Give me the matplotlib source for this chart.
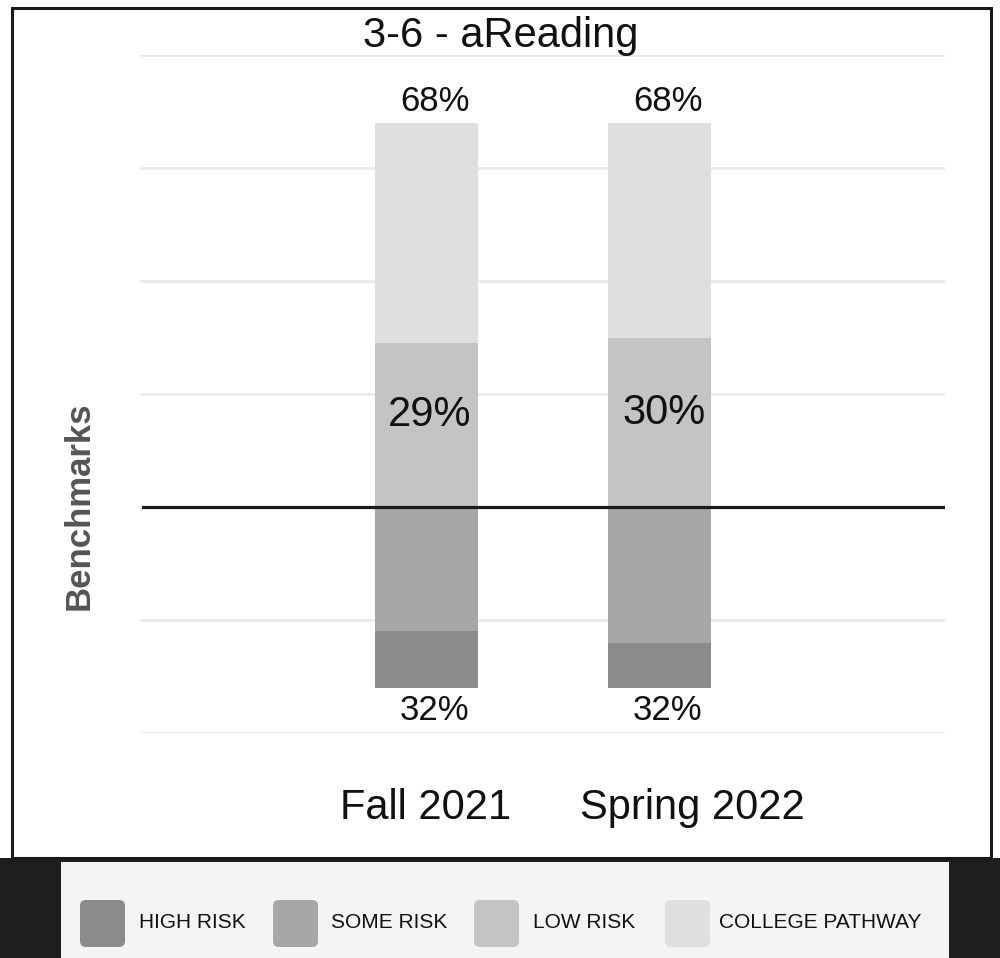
import matplotlib
matplotlib.use("Agg")
import matplotlib.pyplot as plt
from matplotlib.patches import Rectangle, FancyBboxPatch
import numpy as np

plt.rcParams['font.family'] = ['Liberation Sans', 'DejaVu Sans']

# ---- data ----
categories = ["Fall 2021", "Spring 2022"]
high_risk = [10, 8]
some_risk = [22, 24]
low_risk = [29, 30]
college_pathway = [39, 38]
series_names = ["HIGH RISK", "SOME RISK", "LOW RISK", "COLLEGE PATHWAY"]
colors = ["#8b8b8b", "#a7a7a7", "#c4c4c4", "#dfdfdf"]
title = "3-6 - aReading"
y_label = "Benchmarks"
grid_ticks = [-40, -20, 20, 40, 60, 80]

W, H = 1000, 958
fig = plt.figure(figsize=(W / 100, H / 100), dpi=100)
fig.patch.set_facecolor("white")

def fx(px):
    return px / W

def fy(py):
    return 1 - py / H

# frame and bottom band
fig.patches.append(Rectangle((fx(0), fy(958)), 1, (958 - 858) / H, transform=fig.transFigure,
                             facecolor="#1e1e1e", edgecolor="none", zorder=0))
fig.patches.append(Rectangle((fx(61), fy(958)), (949 - 61) / W, (958 - 862) / H,
                             transform=fig.transFigure, facecolor="#f4f4f4", edgecolor="none", zorder=1))
fig.patches.append(Rectangle((fx(12), fy(858)), (991 - 12) / W, (858 - 8) / H,
                             transform=fig.transFigure, facecolor="none", edgecolor="#1a1a1a",
                             linewidth=2.2, zorder=5))

# axes
left_px, right_px, top_px, bot_px = 140, 945, 55, 733
ax = fig.add_axes([fx(left_px), fy(bot_px), (right_px - left_px) / W, (bot_px - top_px) / H])
ax.set_facecolor("none")
x = np.arange(len(categories))
unit = 233.0
ax.set_xlim(-(426.5 - left_px) / unit, (right_px - 426.5) / unit)
ax.set_ylim(-40, 80)
for s in ax.spines.values():
    s.set_visible(False)
ax.set_xticks([])
ax.set_yticks(grid_ticks)
ax.tick_params(axis="y", length=0, labelleft=False)
ax.grid(axis="y", color="#e8e8e8", linewidth=1.8, zorder=0)
ax.set_axisbelow(True)

bw = 103 / unit
hr = np.array(high_risk)
sr = np.array(some_risk)
lr = np.array(low_risk)
cp = np.array(college_pathway)
below = hr + sr
ax.bar(x, hr, bottom=-below, width=bw, color=colors[0], zorder=2)
ax.bar(x, sr, bottom=-sr, width=bw, color=colors[1], zorder=2)
ax.bar(x, lr, bottom=0, width=bw, color=colors[2], zorder=2)
ax.bar(x, cp, bottom=lr, width=bw, color=colors[3], zorder=2)
ax.axhline(0, color="#1c1c1c", linewidth=2.3, zorder=3, xmin=(143 - left_px) / (right_px - left_px))

above = lr + cp
low_dx = [3.5, 5]
for i in range(len(categories)):
    ax.annotate(f"{above[i]}%", xy=(x[i], above[i]), xytext=(6, 15), textcoords="offset points",
                ha="center", va="center", fontsize=25, color="#111111")
    ax.annotate(f"{below[i]}%", xy=(x[i], -below[i]), xytext=(6, -16.5), textcoords="offset points",
                ha="center", va="center", fontsize=25, color="#111111")
    ax.annotate(f"{lr[i]}%", xy=(x[i], lr[i] / 2), xytext=(low_dx[i] / 1.389, 7), textcoords="offset points",
                ha="center", va="center", fontsize=30, color="#111111")

cat_dx = [-1, 24]
for i, c in enumerate(categories):
    ax.annotate(c, xy=(x[i], 0), xycoords=("data", "axes fraction"), xytext=(cat_dx[i], -54),
                textcoords="offset points", ha="center", va="center", fontsize=30, color="#111111")

fig.text(fx(501), fy(36), title, ha="center", va="center", fontsize=30, color="#111111")
fig.text(fx(79), fy(506), y_label, rotation=90, ha="center", va="center", fontsize=25,
         fontweight="bold", color="#555555")

# legend
sq_x = [80, 273, 474, 665]
txt_x = [139, 331, 533, 719]
for i, name in enumerate(series_names):
    fig.patches.append(FancyBboxPatch((fx(sq_x[i]), fy(947)), 45 / W, 47 / H,
                                      boxstyle="round,pad=0,rounding_size=0.006",
                                      transform=fig.transFigure, facecolor=colors[i],
                                      edgecolor="none", zorder=6))
    fig.text(fx(txt_x[i]), fy(923), name, ha="left", va="center", fontsize=15,
             color="#111111", zorder=7)

fig.savefig("out.png", dpi=100, facecolor="white")
